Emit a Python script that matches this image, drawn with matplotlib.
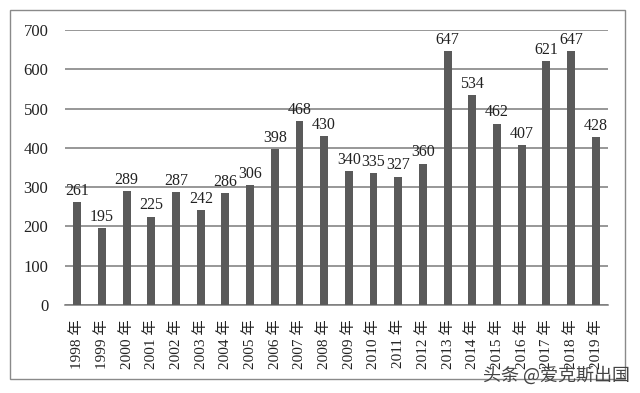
import matplotlib.pyplot as plt
from matplotlib.patches import Rectangle

years = [str(y) for y in range(1998, 2020)]
values = [261, 195, 289, 225, 287, 242, 286, 306, 398, 468, 430,
          340, 335, 327, 360, 647, 534, 462, 407, 621, 647, 428]
labels = [y + ' 年' for y in years]

fonts = ['Liberation Serif', 'Noto Sans CJK SC']
plt.rcParams['font.family'] = fonts

fig = plt.figure(figsize=(6.4, 3.93), dpi=100)
fig.patch.set_facecolor('white')
ax = fig.add_axes([65 / 640, 1 - 305 / 393, 543 / 640, 275 / 393])

x = range(len(values))
ax.bar(x, values, width=0.32, color='#5a5a5a', zorder=3)
for i, v in enumerate(values):
    ax.text(i, v + 8, str(v), ha='center', va='bottom', fontsize=11.5, color='#222222')

ax.set_xlim(-0.5, len(values) - 0.5)
ax.set_ylim(0, 700)
ax.set_yticks(range(0, 701, 100))
ax.yaxis.grid(True, color='#7a7a7a', linewidth=1.1, zorder=0)
ax.set_xticks(list(x))
ax.set_xticklabels(labels, rotation=90, fontsize=11, color='#222222')
ax.tick_params(axis='both', length=0, colors='#222222')
ax.tick_params(axis='y', labelsize=12, pad=12)
ax.tick_params(axis='x', pad=10)
for s in ['top', 'right', 'left']:
    ax.spines[s].set_visible(False)
ax.spines['bottom'].set_color('#7a7a7a')
ax.spines['bottom'].set_linewidth(1.1)

border = Rectangle((10 / 640, 1 - 379 / 393), 615 / 640, 369 / 393,
                   transform=fig.transFigure, fill=False,
                   edgecolor='#8a8a8a', linewidth=1.0)
fig.patches.append(border)

fig.text(0.985, 0.022, '头条 @爱克斯出国', ha='right', va='bottom',
         fontsize=13, color='#444444', family=['Noto Sans CJK SC'])

fig.savefig('out.png', dpi=100)
